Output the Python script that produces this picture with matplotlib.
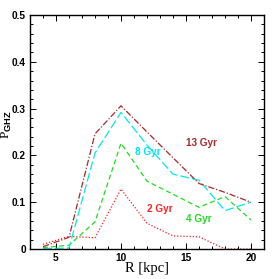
import numpy as np
import matplotlib
matplotlib.use('Agg')
import matplotlib.pyplot as plt
from matplotlib.ticker import MultipleLocator, FuncFormatter

plt.rcParams['mathtext.fontset'] = 'custom'
plt.rcParams['mathtext.rm'] = 'Liberation Serif'
plt.rcParams['mathtext.bf'] = 'Liberation Sans:bold'

# galactocentric radius [kpc]
R = [4, 6, 8, 10, 12, 14, 16, 18, 20]

p_2gyr = [0.010, 0.027, 0.024, 0.128, 0.055, 0.028, 0.026, 0.000, 0.000]
p_4gyr = [0.003, 0.008, 0.058, 0.226, 0.145, 0.117, 0.089, 0.112, 0.062]
p_8gyr = [0.001, 0.002, 0.205, 0.292, 0.222, 0.160, 0.147, 0.082, 0.100]
p_13gyr = [0.005, 0.025, 0.246, 0.306, 0.250, 0.195, 0.140, 0.121, 0.100]

labels = ['2 Gyr', '4 Gyr', '8 Gyr', '13 Gyr']
label_x = [13.0, 16.0, 12.1, 16.2]
label_y = [0.086, 0.064, 0.208, 0.226]
colors = ['#ff2020', '#20dd20', '#00e8f0', '#a52a2a']

fig = plt.figure(figsize=(2.79, 2.79), dpi=100)
ax = fig.add_axes([30/279, 30/279, 234/279, 234/279])

ax.plot(R, p_2gyr, color=colors[0], lw=0.9, linestyle=(0, (1, 1.5)))
ax.plot(R, p_4gyr, color=colors[1], lw=0.9, linestyle=(0, (4, 2.5)))
ax.plot(R, p_8gyr, color=colors[2], lw=0.9, linestyle=(0, (7, 2.5)))
ax.plot(R, p_13gyr, color=colors[3], lw=0.9, linestyle=(0, (5, 1.5, 1, 1.5)))

for t, x, y, c in zip(labels, label_x, label_y, colors):
    ax.text(x, y, t, color=c, fontsize=7.2, fontweight='bold',
            ha='center', va='center', family='Liberation Sans')

ax.set_xlim(3, 21)
ax.set_ylim(0, 0.5)
ax.xaxis.set_major_locator(MultipleLocator(5))
ax.xaxis.set_minor_locator(MultipleLocator(1))
ax.yaxis.set_major_locator(MultipleLocator(0.1))
ax.yaxis.set_minor_locator(MultipleLocator(0.02))
ax.yaxis.set_major_formatter(FuncFormatter(lambda v, p: '0' if abs(v) < 1e-9 else '%.1f' % v))

ax.tick_params(which='both', direction='in', top=True, right=True, width=0.7,
               labelsize=7.3, pad=3)
ax.tick_params(which='major', length=4.3)
ax.tick_params(which='minor', length=2.2)
for lab in ax.get_xticklabels() + ax.get_yticklabels():
    lab.set_fontweight('bold')
    lab.set_family('Liberation Sans')
for s in ax.spines.values():
    s.set_linewidth(1.0)

ax.set_xlabel('R [kpc]', family='Liberation Serif', fontsize=10.5)
ax.xaxis.set_label_coords(0.5, -0.055)
ax.set_ylabel(r'$\mathrm{P}_{\mathbf{GHZ}}$', fontsize=9.5)
ax.yaxis.set_label_coords(-0.07, 0.53)

fig.savefig('out.png', dpi=100)
